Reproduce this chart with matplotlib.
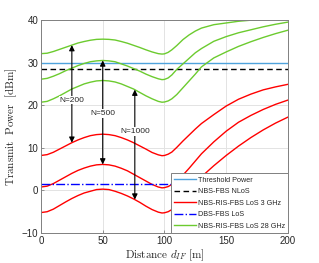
import matplotlib
matplotlib.use("Agg")
import matplotlib.pyplot as plt

plt.rcParams["mathtext.fontset"] = "cm"
plt.rcParams["font.family"] = ["Liberation Sans", "DejaVu Sans"]

# distance d_IF [m]
dist = [0, 5, 10, 15, 20, 25, 30, 35, 40, 45, 50, 55, 60, 65, 70, 75, 80, 85, 90, 95, 98,
        100, 103, 106, 110, 115, 120, 125, 130, 140, 150, 160, 170, 180, 190, 200]

# NBS-RIS-FBS LoS 28 GHz (N=200, 500, 1000)
green_n200 = [32.1, 32.2, 32.6, 33.1, 33.6, 34.1, 34.6, 34.95, 35.25, 35.45, 35.5, 35.45, 35.3, 34.95,
              34.55, 34.05, 33.55, 33.0, 32.5, 32.1, 32.0,
              32.05, 32.4, 33.0, 34.0, 35.4, 36.5, 37.4, 38.1, 38.9, 39.3, 39.7, 39.95, 40.2, 40.5, 40.7]
green_n500 = [26.1, 26.3, 26.8, 27.4, 28.1, 28.7, 29.3, 29.8, 30.2, 30.4, 30.5, 30.4, 30.2, 29.7,
              29.2, 28.6, 28.0, 27.3, 26.7, 26.2, 26.0,
              26.05, 26.4, 27.1, 28.4, 29.7, 31.0, 32.3, 33.3, 35.0, 36.1, 37.0, 37.7, 38.4, 39.0, 39.5]
green_n1000 = [20.7, 20.9, 21.5, 22.2, 23.0, 23.8, 24.4, 25.0, 25.4, 25.7, 25.8, 25.7, 25.45, 25.0,
               24.4, 23.8, 23.0, 22.2, 21.5, 20.9, 20.7,
               20.75, 21.0, 21.5, 22.5, 24.1, 25.7, 27.3, 29.0, 31.1, 32.5, 33.8, 34.9, 35.9, 36.8, 37.6]

# NBS-RIS-FBS LoS 3 GHz (N=200, 500, 1000)
red_n200 = [8.2, 8.4, 8.95, 9.7, 10.45, 11.2, 11.85, 12.4, 12.85, 13.1, 13.2, 13.1, 12.85, 12.4,
            11.85, 11.2, 10.45, 9.7, 8.9, 8.35, 8.15,
            8.2, 8.5, 9.0, 10.1, 11.6, 13.0, 14.4, 15.7, 17.8, 19.8, 21.4, 22.6, 23.6, 24.3, 24.9]
red_n500 = [0.8, 1.0, 1.6, 2.4, 3.2, 4.0, 4.7, 5.25, 5.7, 6.0, 6.1, 6.0, 5.7, 5.2,
            4.6, 3.8, 3.0, 2.2, 1.4, 0.8, 0.6,
            0.65, 0.9, 1.4, 2.2, 3.6, 5.2, 6.9, 8.6, 11.4, 13.9, 16.0, 17.6, 19.0, 20.2, 21.2]
red_n1000 = [-5.2, -5.0, -4.4, -3.55, -2.7, -1.9, -1.2, -0.6, -0.2, 0.2, 0.3, 0.2, -0.2, -0.7,
             -1.3, -2.0, -2.8, -3.7, -4.5, -5.1, -5.3,
             -5.25, -5.0, -4.5, -3.6, -2.0, -0.4, 1.4, 3.2, 5.8, 8.2, 10.4, 12.4, 14.2, 15.8, 17.2]

threshold = 30.0
nbs_fbs_nlos = 28.6
dbs_fbs_los = 1.5

# double arrows: x, bottom, top, label, label y
arrows = [
    (25, 11.2, 34.1, "N=200", 21.2),
    (50, 6.1, 30.5, "N=500", 18.1),
    (76, -2.15, 23.65, "N=1000", 13.8),
]

green = "#6CCB2F"
gray_txt = "#262626"

fig = plt.figure(figsize=(3.19, 2.63), dpi=100)
ax = fig.add_axes([0.1285, 0.114, 0.774, 0.81])

ax.axhline(threshold, color="#4FA3DC", lw=1.0, label="Threshold Power")
ax.axhline(nbs_fbs_nlos, color="black", lw=1.0, ls=(0, (4, 2.5)), label="NBS-FBS NLoS")
ax.plot(dist, red_n200, color="red", lw=1.0, label="NBS-RIS-FBS LoS 3 GHz")
ax.plot(dist, red_n500, color="red", lw=1.0)
ax.plot(dist, red_n1000, color="red", lw=1.0)
ax.axhline(dbs_fbs_los, color="blue", lw=1.0, ls="-.", label="DBS-FBS LoS")
ax.plot(dist, green_n200, color=green, lw=1.0, label="NBS-RIS-FBS LoS 28 GHz")
ax.plot(dist, green_n500, color=green, lw=1.0)
ax.plot(dist, green_n1000, color=green, lw=1.0)

for x, lo, hi, txt, ty in arrows:
    ax.annotate("", xy=(x, hi), xytext=(x, lo),
                arrowprops=dict(arrowstyle="<|-|>", color="black", lw=0.8,
                                mutation_scale=8, shrinkA=0, shrinkB=0))
    ax.text(x, ty, txt, ha="center", va="center", fontsize=6, color=gray_txt,
            bbox=dict(facecolor="white", edgecolor="none", pad=0.6))

ax.set_xlim(0, 200)
ax.set_ylim(-10, 40)
ax.set_xticks([0, 50, 100, 150, 200])
ax.set_yticks([-10, 0, 10, 20, 30, 40])
ax.grid(True, color="#E3E3E3", lw=0.7)
ax.set_axisbelow(True)
ax.tick_params(direction="in", length=2, width=0.6, labelsize=7, colors="#808080",
               labelcolor=gray_txt, pad=2)
for s in ax.spines.values():
    s.set_color("#808080")
    s.set_linewidth(0.7)

ax.set_xlabel(r"$\mathrm{Distance}\ d_{IF}\ \mathrm{[m]}$", fontsize=8, color=gray_txt, labelpad=1)
ax.set_ylabel(r"$\mathrm{Transmit\ \ Power\ \ [dBm]}$", fontsize=8, color=gray_txt, labelpad=2)

leg = ax.legend(loc="lower right", bbox_to_anchor=(1, 0), borderaxespad=0, fontsize=5.2,
                fancybox=False, framealpha=1, edgecolor="#808080", handlelength=3.0,
                handletextpad=0.2, labelspacing=0.62, borderpad=0.45)
leg.get_frame().set_linewidth(0.7)
for t in leg.get_texts():
    t.set_color(gray_txt)

fig.savefig("out.png", dpi=100)
